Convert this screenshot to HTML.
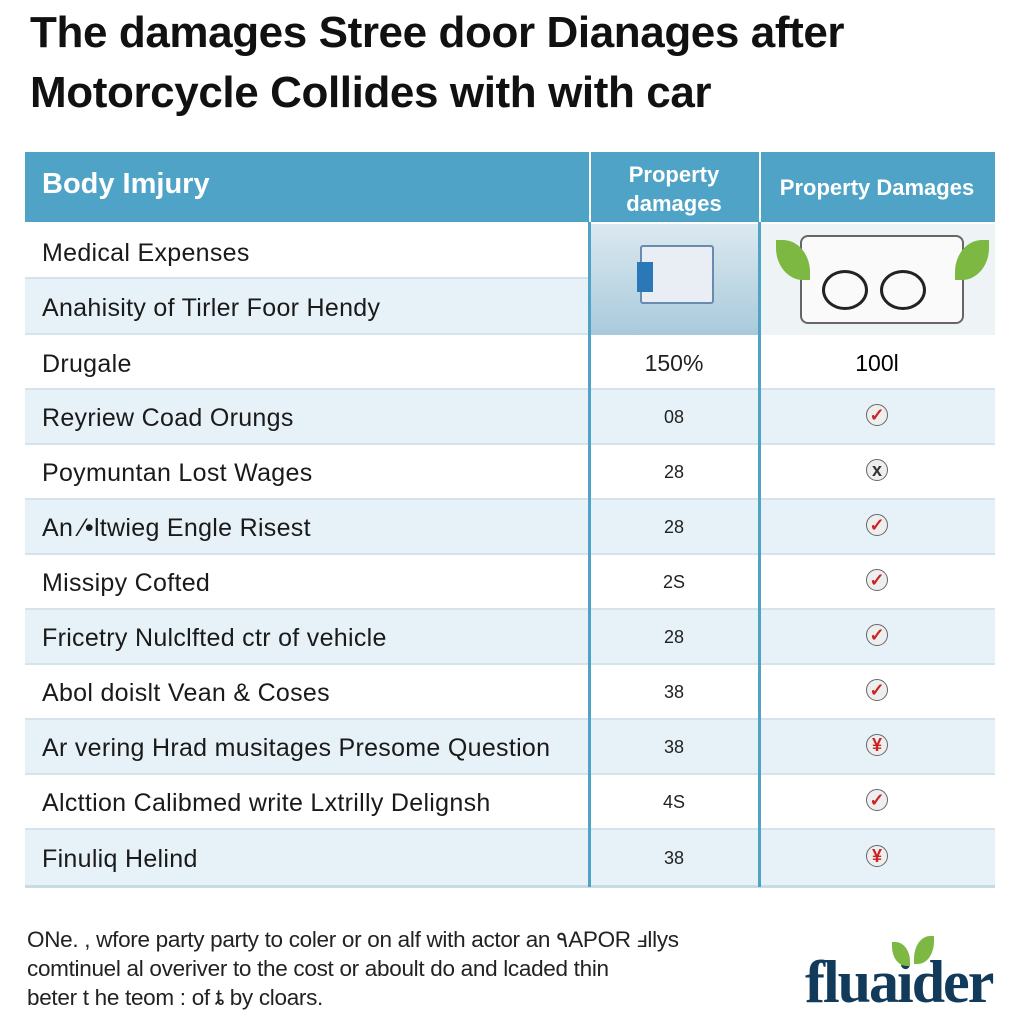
<!DOCTYPE html><html><head><style>
body{margin:0;width:1024px;height:1024px;background:#fff;position:relative;overflow:hidden;font-family:"Liberation Sans",sans-serif}
.a{position:absolute}
.t{left:30px;font-size:44px;font-weight:bold;color:#111;letter-spacing:-0.4px}
.r{position:absolute;left:25px;width:970px;border-bottom:2px solid #d5e3ea}
.c1{position:absolute;left:17px;font-size:25px;color:#1a1a1a;letter-spacing:0.3px}
.c2{position:absolute;left:564px;width:170px;text-align:center;font-size:18px;color:#222}
.c3{position:absolute;left:734px;width:236px;text-align:center}
.ck{display:inline-block;width:20px;height:20px;border:1.5px solid #666;border-radius:50%;color:#c22;font-size:18px;line-height:20px;font-weight:bold;background:#eee}
</style></head><body>
<div class="a t" style="top:8px">The damages Stree door Dianages after</div>
<div class="a t" style="top:68px">Motorcycle Collides with with car</div>
<div class="a" style="left:25px;top:152px;width:970px;height:70px;background:#4fa3c6"></div>
<div class="a" style="left:42px;top:168px;font-size:29px;font-weight:bold;color:#fff">Body Imjury</div>
<div class="a" style="left:589px;top:160px;width:170px;text-align:center;font-size:22px;font-weight:bold;color:#fff;line-height:29px">Property<br>damages</div>
<div class="a" style="left:759px;top:175px;width:236px;text-align:center;font-size:22px;font-weight:bold;color:#fff">Property Damages</div>
<div class="r" style="top:224px;height:53px;background:#fff"><div class="c1" style="top:15px">Medical Expenses</div></div>
<div class="r" style="top:279px;height:54px;background:#e7f2f8"><div class="c1" style="top:15px">Anahisity of Tirler Foor Hendy</div></div>
<div class="a" style="left:589px;top:224px;width:170px;height:111px;background:linear-gradient(#dbe9f0,#a9cadb)"></div>
<div class="a" style="left:640px;top:245px;width:70px;height:55px;background:#e8eef4;border:2px solid #6a8bb0;border-radius:3px"></div>
<div class="a" style="left:637px;top:262px;width:16px;height:30px;background:#2a78b8"></div>
<div class="a" style="left:759px;top:224px;width:236px;height:111px;background:#eef3f6"></div>
<div class="a" style="left:800px;top:235px;width:160px;height:85px;background:#fafafa;border:2px solid #666;border-radius:8px"></div>
<div class="a" style="left:822px;top:270px;width:40px;height:34px;border:3px solid #222;border-radius:50%"></div>
<div class="a" style="left:880px;top:270px;width:40px;height:34px;border:3px solid #222;border-radius:50%"></div>
<div class="a" style="left:776px;top:240px;width:34px;height:40px;background:#7cb842;border-radius:0 80% 0 80%"></div>
<div class="a" style="left:955px;top:240px;width:34px;height:40px;background:#7cb842;border-radius:80% 0 80% 0"></div>
<div class="r" style="top:335px;height:53px;background:#fff"><div class="c1" style="top:15px">Drugale</div><div class="c2" style="top:15px;font-size:23px">150%</div><div class="c3" style="top:15px;font-size:23px">100l</div></div>
<div class="r" style="top:390px;height:53px;background:#e7f2f8"><div class="c1" style="top:14px">Reyriew Coad Orungs</div><div class="c2" style="top:17px">08</div><div class="c3" style="top:14px"><span class="ck">✓</span></div></div>
<div class="r" style="top:445px;height:53px;background:#fff"><div class="c1" style="top:14px">Poymuntan Lost Wages</div><div class="c2" style="top:17px">28</div><div class="c3" style="top:14px"><span class="ck" style="color:#333">x</span></div></div>
<div class="r" style="top:500px;height:53px;background:#e7f2f8"><div class="c1" style="top:14px">An ⁄•ltwieg Engle Risest</div><div class="c2" style="top:17px">28</div><div class="c3" style="top:14px"><span class="ck">✓</span></div></div>
<div class="r" style="top:555px;height:53px;background:#fff"><div class="c1" style="top:14px">Missipy Cofted</div><div class="c2" style="top:17px">2S</div><div class="c3" style="top:14px"><span class="ck">✓</span></div></div>
<div class="r" style="top:610px;height:53px;background:#e7f2f8"><div class="c1" style="top:14px">Fricetry Nulclfted ctr of vehicle</div><div class="c2" style="top:17px">28</div><div class="c3" style="top:14px"><span class="ck">✓</span></div></div>
<div class="r" style="top:665px;height:53px;background:#fff"><div class="c1" style="top:14px">Abol doislt Vean &amp; Coses</div><div class="c2" style="top:17px">38</div><div class="c3" style="top:14px"><span class="ck">✓</span></div></div>
<div class="r" style="top:720px;height:53px;background:#e7f2f8"><div class="c1" style="top:14px">Ar vering Hrad musitages Presome Question</div><div class="c2" style="top:17px">38</div><div class="c3" style="top:14px"><span class="ck">¥</span></div></div>
<div class="r" style="top:775px;height:53px;background:#fff"><div class="c1" style="top:14px">Alcttion Calibmed write Lxtrilly Delignsh</div><div class="c2" style="top:17px">4S</div><div class="c3" style="top:14px"><span class="ck">✓</span></div></div>
<div class="r" style="top:830px;height:55px;background:#e7f2f8;border-bottom:3px solid #c8dbe4"><div class="c1" style="top:15px">Finuliq Helind</div><div class="c2" style="top:18px">38</div><div class="c3" style="top:15px"><span class="ck">¥</span></div></div>
<div class="a" style="left:588px;top:222px;width:3px;height:665px;background:#4fa3c6"></div>
<div class="a" style="left:758px;top:222px;width:3px;height:665px;background:#4fa3c6"></div>
<div class="a" style="left:589px;top:152px;width:2px;height:70px;background:#fff"></div>
<div class="a" style="left:759px;top:152px;width:2px;height:70px;background:#fff"></div>
<div class="a" style="left:27px;top:925px;font-size:22.5px;color:#222;line-height:29px;letter-spacing:-0.3px">ONe. , wfore party party to coler or on alf with actor an ٩APOR ⅎllys<br>comtinuel al overiver to the cost or aboult do and lcaded thin<br>beter t he teom : of ȶ by cloars.</div>
<div class="a" style="left:805px;top:948px;font-family:'Liberation Serif',serif;font-size:60px;font-weight:bold;color:#123a5a;letter-spacing:-2px">fluaider</div>
<div class="a" style="left:892px;top:942px;width:18px;height:24px;background:#7cb842;border-radius:0 80% 0 80%"></div>
<div class="a" style="left:914px;top:936px;width:20px;height:28px;background:#7cb842;border-radius:80% 0 80% 0"></div>
</body></html>
